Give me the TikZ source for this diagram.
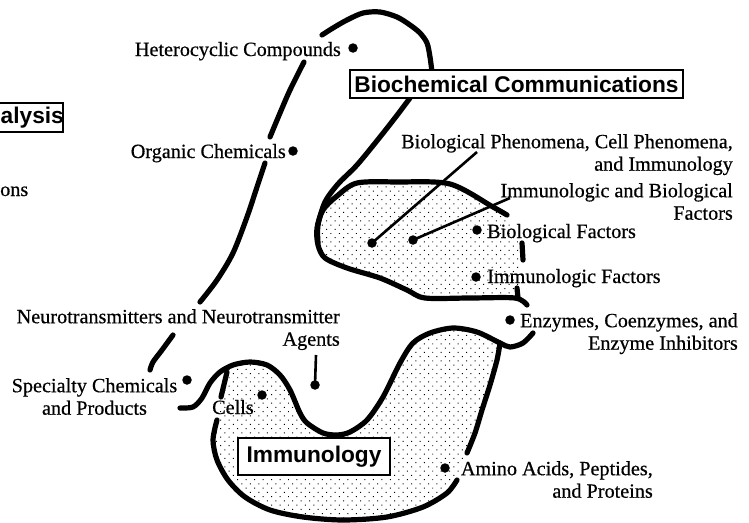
\documentclass[tikz,border=0pt]{standalone}
\usepackage{fontspec}
\setmainfont{Liberation Serif}
\setsansfont{Liberation Sans}
\newfontfamily\lblfont{Liberation Serif}[FakeBold=0.5]
\usetikzlibrary{patterns.meta}
\begin{document}
\begin{tikzpicture}[x=1pt,y=-1pt,
  outline/.style={line width=5.2pt, line cap=round, line join=round},
  conn/.style={line width=2.6pt},
  blackdot/.style={circle, fill=black, inner sep=0pt, minimum size=9.5pt},
  lbl/.style={inner sep=0pt, font=\lblfont\fontsize{20.2}{22.5}\selectfont},
  boxlbl/.style={draw, line width=2.4pt, fill=white, inner ysep=0pt,
    font=\sffamily\bfseries\fontsize{22.7}{26}\selectfont},
  stipple/.style={pattern={Dots[distance=6pt,radius=0.7pt,angle=45]}}]
\useasboundingbox (0,0) rectangle (749,522);

% ---- stippled regions
\fill[stipple] plot[smooth cycle, tension=0.5] coordinates {
  (317,243) (318,227) (323,210) (337,197) (357,183) (397,182) (450,184)
  (493,207) (507,215) (518,240) (519,270) (518,298) (470,298) (423,298)
  (407,290) (380,278) (347,268) (323,257)};
\fill[stipple] plot[smooth cycle, tension=0.5] coordinates {
  (225,372) (233,365) (250,362) (267,365) (280,375) (290,390) (300,413)
  (307,423) (323,433) (337,435) (350,432) (367,420) (383,397) (400,363)
  (413,343) (430,333) (453,328) (477,332) (500,343) (497,360) (490,385)
  (482,410) (475,433) (467,453) (457,480) (447,493) (423,507) (387,517)
  (343,520) (303,517) (270,510) (245,497) (228,480) (217,460) (213,440)
  (217,420) (221,397)};

% ---- outlines
\draw[outline] plot[smooth, tension=0.5] coordinates {(322,35) (333,28) (347,20)
  (363,13) (380,12) (397,17) (410,25) (420,33) (427,43) (430,57) (432,72)};
\draw[outline] plot[smooth, tension=0.5] coordinates {(304,62) (290,90) (280,113) (270,137)};
\draw[outline] plot[smooth, tension=0.5] coordinates {(265,163) (257,187) (247,217)
  (233,253) (217,280) (200,302)};
\draw[outline] plot[smooth, tension=0.5] coordinates {(173,335) (162,350) (153,362) (150,370)};
\draw[outline] plot[smooth, tension=0.5] coordinates {(410,98) (398,114) (380,137)
  (357,165) (338,184) (325,202) (318,225) (318,243)};
\draw[outline] plot[smooth, tension=0.5] coordinates {(507,215) (493,207) (450,184)
  (397,182) (357,183) (337,196) (323,210) (317,228) (318,245) (325,258) (347,268)
  (380,278) (407,290) (425,298) (470,298) (515,298) (527,305)};
\draw[outline] (517,288) -- (518,298);
\draw[outline] (522,243) -- (523,260);
\draw[outline] plot[smooth, tension=0.5] coordinates {(180,408) (193,407) (202,398)
  (210,383) (220,372) (233,365) (250,362) (267,365) (280,375) (290,390) (300,413)
  (307,423) (323,433) (337,435) (350,432) (367,420) (383,397) (400,363) (413,343)
  (430,333) (453,328) (477,332) (500,343) (510,347) (523,343) (533,333)};
\draw[outline] plot[smooth, tension=0.5] coordinates {(500,343) (497,360) (490,385)
  (482,410) (475,433) (467,453)};
\draw[outline] (221,397) -- (227,372);
\draw[outline] plot[smooth, tension=0.5] coordinates {(457,480) (447,493) (423,507)
  (387,517) (343,520) (303,517) (270,510) (245,497) (228,480) (217,460) (213,440)
  (217,420)};

% ---- boxes
\node[boxlbl, inner xsep=4.5pt, minimum height=28pt] (bc) at (516.5,84) {Biochemical Communications};
\node[boxlbl, inner xsep=8.5pt, minimum height=37pt] (imm) at (314,456.5) {Immunology};
\draw[line width=2.4pt, fill=white] (-10,103) rectangle (63,132);
\node[inner sep=0pt, anchor=west, font=\sffamily\bfseries\fontsize{22.7}{26}\selectfont] (ana) at (0.5,117.5) {alysis};

% ---- dots
\node[blackdot] (dHet) at (353,48) {};
\node[blackdot] (dOrg) at (293,151) {};
\node[blackdot] (dBP) at (372,243) {};
\node[blackdot] (dIB) at (413,240) {};
\node[blackdot] (dBF) at (477,230) {};
\node[blackdot] (dIF) at (476,277) {};
\node[blackdot] (dEnz) at (510,320) {};
\node[blackdot] (dAmino) at (445,468) {};
\node[blackdot] (dCells) at (262,395) {};
\node[blackdot] (dAgents) at (315,385) {};
\node[blackdot] (dSpec) at (187,380) {};

% ---- connectors
\coordinate (cBP) at (477,152);
\coordinate (cIB) at (510,198);
\coordinate (cAg) at (316,355);
\draw[conn] (dBP.center) -- (cBP);
\draw[conn] (dIB.center) -- (cIB);
\draw[conn] (dAgents.center) -- (cAg);

% ---- labels
\node[lbl, anchor=base east] (tHet) at (341,56) {Heterocyclic Compounds};
\node[lbl, anchor=base east] (tOrg) at (286,158) {Organic Chemicals};
\node[lbl, anchor=base west] (tOns) at (0,196) {ons};
\node[lbl, anchor=north east, align=right] (tBP) at (733,134) {Biological Phenomena, Cell Phenomena,\\and Immunology};
\node[lbl, anchor=north east, align=right] (tIB) at (733,183) {Immunologic and Biological\\Factors};
\node[lbl, anchor=base west] (tBF) at (487,238) {Biological Factors};
\node[lbl, anchor=base west] (tIF) at (487,283) {Immunologic Factors};
\node[lbl, anchor=north east, align=right] (tEnz) at (738,313) {Enzymes, Coenzymes, and\\Enzyme Inhibitors};
\node[lbl, anchor=north east, align=right] (tAm) at (653,461) {Amino Acids, Peptides,\\and Proteins};
\node[lbl, anchor=north east, align=right] (tNeu) at (340,309) {Neurotransmitters and Neurotransmitter\\Agents};
\node[lbl, anchor=north, align=center] (tSpec) at (94.5,378) {Specialty Chemicals\\and Products};
\node[lbl, anchor=base west] (tCells) at (212,414) {Cells};
\end{tikzpicture}
\end{document}
